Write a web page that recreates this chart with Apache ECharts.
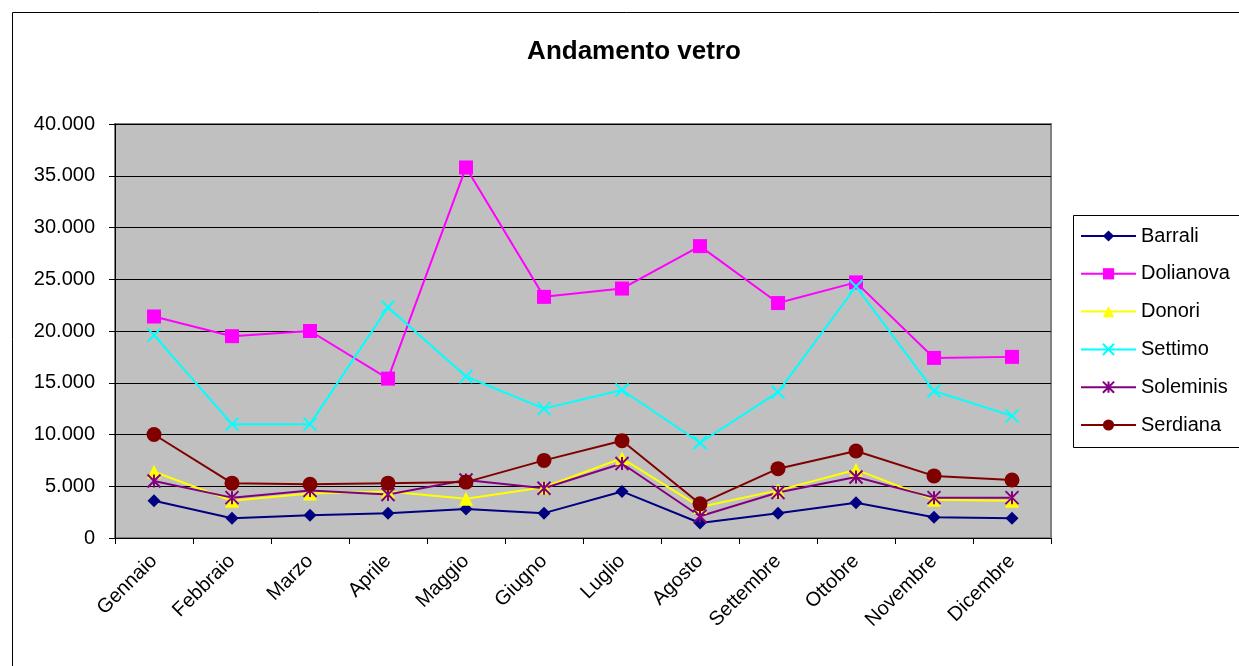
<!DOCTYPE html>
<html>
<head>
<meta charset="utf-8">
<script src="https://cdn.jsdelivr.net/npm/echarts@6/dist/echarts.min.js"></script>
<style>
  html, body { margin: 0; padding: 0; background: #fff; }
  #chart { width: 1239px; height: 666px; }
</style>
</head>
<body>
<div id="chart"></div>
<script>
const months = ["Gennaio", "Febbraio", "Marzo", "Aprile", "Maggio", "Giugno",
  "Luglio", "Agosto", "Settembre", "Ottobre", "Novembre", "Dicembre"];

const barrali   = [3600, 1900, 2200, 2400, 2800, 2400, 4500, 1450, 2400, 3400, 2000, 1900];
const dolianova = [21400, 19500, 20000, 15400, 35800, 23300, 24100, 28200, 22700, 24700, 17400, 17500];
const donori    = [6400, 3600, 4300, 4500, 3800, 4900, 7700, 3000, 4600, 6600, 3700, 3600];
const settimo   = [19600, 11000, 11000, 22300, 15600, 12500, 14300, 9200, 14100, 24300, 14200, 11800];
const soleminis = [5500, 3900, 4600, 4200, 5600, 4800, 7200, 2100, 4400, 5900, 3900, 3900];
const serdiana  = [10000, 5300, 5200, 5300, 5400, 7500, 9400, 3300, 6700, 8400, 6000, 5600];

const xSym = "path://M0,0L10,10M10,0L0,10";
const starSym = "path://M5,0L5,10M0,0L10,10M10,0L0,10";

function line(name, data, color, symbol, size, stroked) {
  return {
    name: name,
    type: "line",
    data: data,
    symbol: symbol,
    symbolSize: size,
    showAllSymbol: true,
    lineStyle: { color: color, width: 2 },
    itemStyle: stroked
      ? { color: "none", borderColor: color, borderWidth: 2 }
      : { color: color },
    emphasis: { disabled: true },
  };
}

const chart = echarts.init(document.getElementById("chart"));

chart.setOption({
  animation: false,
  textStyle: { fontFamily: "Liberation Sans, Arial, sans-serif" },
  title: {
    text: "Andamento vetro",
    left: 629,
    textAlign: "center",
    top: 34,
    textStyle: { fontSize: 26, fontWeight: "bold", color: "#000" },
  },
  graphic: [
    {
      type: "rect",
      shape: { x: 12.5, y: 12.5, width: 1240, height: 670 },
      style: { fill: "none", stroke: "#000", lineWidth: 1 },
      silent: true,
    },
    {
      type: "rect",
      shape: { x: 1073.5, y: 215.5, width: 180, height: 232 },
      style: { fill: "#fff", stroke: "#000", lineWidth: 1 },
      silent: true,
      z: -1,
    },
  ],
  legend: {
    orient: "vertical",
    left: 1080,
    top: 226,
    padding: 0,
    itemWidth: 55,
    itemHeight: 14,
    itemGap: 17.8,
    textStyle: { fontSize: 20, color: "#000" },
    data: ["Barrali", "Dolianova", "Donori", "Settimo", "Soleminis", "Serdiana"],
  },
  grid: {
    left: 115,
    top: 124,
    width: 936,
    height: 414,
    show: true,
    backgroundColor: "#C0C0C0",
    borderColor: "#808080",
    borderWidth: 2,
  },
  xAxis: {
    type: "category",
    data: months,
    boundaryGap: true,
    axisLine: { lineStyle: { color: "#000", width: 1 } },
    axisTick: { show: true, length: 6, lineStyle: { color: "#000" } },
    axisLabel: {
      rotate: 45,
      fontSize: 20,
      color: "#000",
      margin: 20,
      interval: 0,
    },
  },
  yAxis: {
    type: "value",
    min: 0,
    max: 40000,
    interval: 5000,
    axisLine: { show: true, lineStyle: { color: "#000", width: 1 } },
    axisTick: { show: true, length: 6, lineStyle: { color: "#000" } },
    splitLine: { lineStyle: { color: "#000", width: 1 } },
    axisLabel: {
      fontSize: 20,
      color: "#000",
      margin: 20,
      formatter: (v) => v.toLocaleString("de-DE"),
    },
  },
  series: [
    line("Barrali", barrali, "#000080", "diamond", 13, false),
    line("Dolianova", dolianova, "#FF00FF", "rect", 14, false),
    line("Donori", donori, "#FFFF00", "triangle", 14, false),
    line("Settimo", settimo, "#00FFFF", xSym, 13, true),
    line("Soleminis", soleminis, "#800080", starSym, 13, true),
    line("Serdiana", serdiana, "#800000", "circle", 15, false),
  ],
});
</script>
</body>
</html>
